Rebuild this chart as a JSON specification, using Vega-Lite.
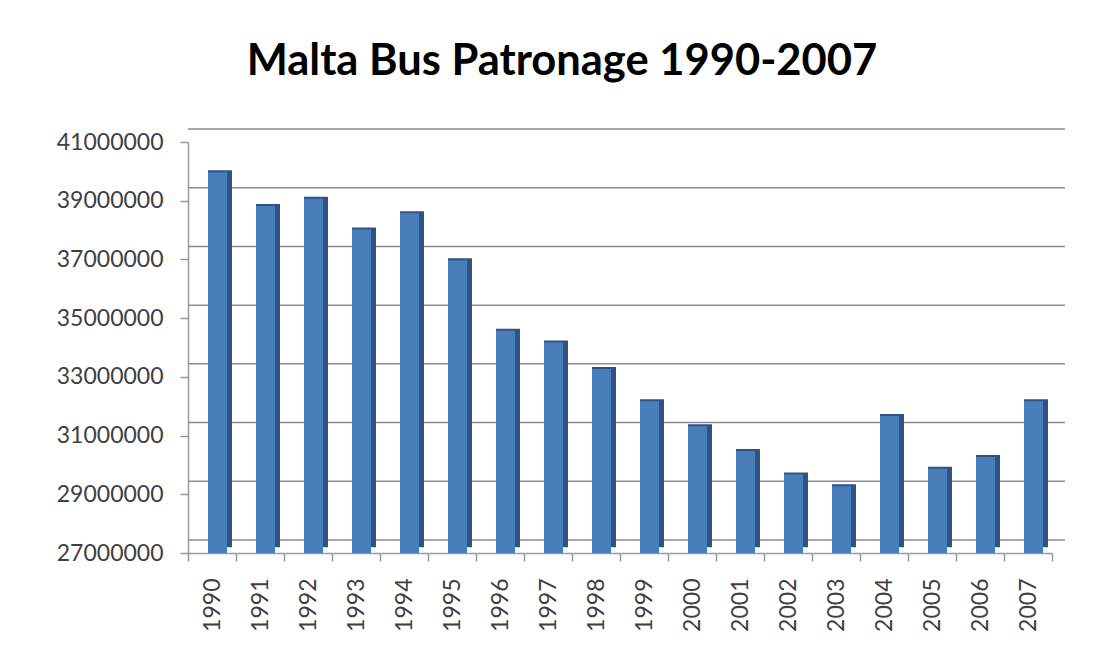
{
  "$schema": "https://vega.github.io/schema/vega-lite/v6.json",
  "autosize": {"type": "none"},
  "padding": {"left": 188, "top": 142, "right": 49, "bottom": 109},
  "width": 864,
  "height": 411,
  "background": "white",
  "title": {
    "text": "Malta Bus Patronage 1990-2007",
    "font": "Lato",
    "fontSize": 43.5,
    "fontWeight": "bold",
    "color": "#000000",
    "anchor": "middle",
    "dx": -58,
    "offset": 44
  },
  "data": {
    "values": [
      {"year": "1990", "patronage": 39800000},
      {"year": "1991", "patronage": 38650000},
      {"year": "1992", "patronage": 38900000},
      {"year": "1993", "patronage": 37850000},
      {"year": "1994", "patronage": 38400000},
      {"year": "1995", "patronage": 36800000},
      {"year": "1996", "patronage": 34400000},
      {"year": "1997", "patronage": 34000000},
      {"year": "1998", "patronage": 33100000},
      {"year": "1999", "patronage": 32000000},
      {"year": "2000", "patronage": 31150000},
      {"year": "2001", "patronage": 30300000},
      {"year": "2002", "patronage": 29500000},
      {"year": "2003", "patronage": 29100000},
      {"year": "2004", "patronage": 31500000},
      {"year": "2005", "patronage": 29700000},
      {"year": "2006", "patronage": 30100000},
      {"year": "2007", "patronage": 32000000}
    ]
  },
  "config": {
    "view": {"stroke": null},
    "axis": {
      "labelFont": "Lato",
      "labelFontSize": 23,
      "labelColor": "#404040",
      "domainColor": "#9a9a9a",
      "tickColor": "#9a9a9a",
      "domainWidth": 1.5,
      "tickWidth": 1.5,
      "tickSize": 8
    }
  },
  "layer": [
    {
      "mark": {"type": "rule", "color": "#8c8c8c", "strokeWidth": 1.5, "yOffset": -13, "xOffset": 13, "x2Offset": 13},
      "data": {"values": [
        {"patronage": 27000000}, {"patronage": 29000000}, {"patronage": 31000000}, {"patronage": 33000000},
        {"patronage": 35000000}, {"patronage": 37000000}, {"patronage": 39000000}, {"patronage": 41000000}
      ]},
      "encoding": {
        "y": {
          "field": "patronage", "type": "quantitative",
          "scale": {"domain": [27000000, 41000000], "zero": false},
          "axis": {
            "title": null,
            "values": [27000000, 29000000, 31000000, 33000000, 35000000, 37000000, 39000000, 41000000],
            "format": "d",
            "grid": false,
            "labelPadding": 17
          }
        }
      }
    },
    {
      "mark": {"type": "bar", "color": "#2f5385", "width": 24, "xOffset": 8, "yOffset": -7},
      "encoding": {
        "x": {
          "field": "year", "type": "ordinal",
          "scale": {"paddingInner": 0, "paddingOuter": 0},
          "axis": {
            "title": null,
            "labelAngle": -90,
            "labelAlign": "right",
            "labelBaseline": "middle",
            "labelPadding": 17,
            "tickBand": "extent"
          }
        },
        "y": {
          "field": "patronage", "type": "quantitative",
          "scale": {"domain": [27000000, 41000000], "zero": false},
          "axis": {
            "title": null,
            "values": [27000000, 29000000, 31000000, 33000000, 35000000, 37000000, 39000000, 41000000],
            "format": "d",
            "grid": false,
            "labelPadding": 17
          }
        },
        "y2": {"datum": 27200000}
      }
    },
    {
      "mark": {"type": "bar", "color": "#4a7ebb", "width": 19, "xOffset": 5.5, "yOffset": -5},
      "encoding": {
        "x": {
          "field": "year", "type": "ordinal",
          "scale": {"paddingInner": 0, "paddingOuter": 0},
          "axis": {
            "title": null,
            "labelAngle": -90,
            "labelAlign": "right",
            "labelBaseline": "middle",
            "labelPadding": 17,
            "tickBand": "extent"
          }
        },
        "y": {
          "field": "patronage", "type": "quantitative",
          "scale": {"domain": [27000000, 41000000], "zero": false},
          "axis": {
            "title": null,
            "values": [27000000, 29000000, 31000000, 33000000, 35000000, 37000000, 39000000, 41000000],
            "format": "d",
            "grid": false,
            "labelPadding": 17
          }
        },
        "y2": {"datum": 27000000}
      }
    }
  ]
}
